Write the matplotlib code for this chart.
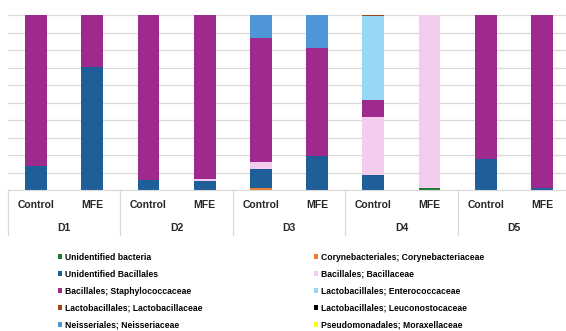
import numpy as np
import matplotlib.pyplot as plt
from matplotlib.patches import Patch
import matplotlib.transforms as mtransforms

plt.rcParams['font.family'] = ['Liberation Sans', 'DejaVu Sans']

days = ['D1', 'D2', 'D3', 'D4', 'D5']
groups = ['Control', 'MFE']

taxa = ['Unidentified bacteria', 'Corynebacteriales; Corynebacteriaceae',
        'Unidentified Bacillales', 'Bacillales; Bacillaceae',
        'Bacillales; Staphylococcaceae', 'Lactobacillales; Enterococcaceae',
        'Lactobacillales; Lactobacillaceae', 'Lactobacillales; Leuconostocaceae',
        'Neisseriales; Neisseriaceae', 'Pseudomonadales; Moraxellaceae']
colors = ['#1e7a30', '#ed7d31', '#1f5f99', '#f2cdee', '#9e2a8e',
          '#97d9f5', '#a0461a', '#000000', '#4f96d8', '#ffff00']

# relative abundance (%) per sample: D1 C, D1 M, D2 C, D2 M, ... D5 M
unid_bacteria = [0, 0, 0, 0, 0, 0, 0, 1.5, 0, 0]
corynebact = [0, 0, 0, 0, 1.3, 0, 0, 0, 0, 0]
unid_bacillales = [14.0, 70.2, 5.9, 5.5, 10.6, 19.6, 8.6, 0, 18.1, 1.5]
bacillaceae = [0, 0, 0, 0.8, 4.4, 0, 33.5, 98.5, 0, 0]
staphylococc = [86.0, 29.8, 94.1, 93.7, 70.8, 61.6, 9.5, 0, 81.9, 98.5]
enterococc = [0, 0, 0, 0, 0, 0, 48.1, 0, 0, 0]
lactobacill = [0, 0, 0, 0, 0, 0, 0.3, 0, 0, 0]
leuconostoc = [0, 0, 0, 0, 0, 0, 0, 0, 0, 0]
neisseriac = [0, 0, 0, 0, 12.9, 18.8, 0, 0, 0, 0]
moraxellac = [0, 0, 0, 0, 0, 0, 0, 0, 0, 0]

series = [unid_bacteria, corynebact, unid_bacillales, bacillaceae, staphylococc,
          enterococc, lactobacill, leuconostoc, neisseriac, moraxellac]

fig = plt.figure(figsize=(5.66, 3.31), dpi=100)
ax = fig.add_axes([0.0141, 0.425, 0.993, 0.5297])

x = np.arange(len(days) * len(groups))
bottom = np.zeros(len(x))
for vals, col in zip(series, colors):
    vals = np.array(vals)
    ax.bar(x, vals, 0.39, bottom=bottom, color=col, zorder=3)
    bottom += vals

ax.set_xlim(-0.5, len(x) - 0.5)
ax.set_ylim(0, 100)
ax.set_yticks(np.arange(0, 101, 10))
ax.yaxis.grid(True, color='#d9d9d9', linewidth=0.9, zorder=0)
ax.set_xticks([])
ax.tick_params(left=False, labelleft=False)
for s in ['top', 'right', 'left']:
    ax.spines[s].set_visible(False)
ax.spines['bottom'].set_color('#d9d9d9')
ax.spines['bottom'].set_zorder(4)

# category labels and group separators below the axis
trans = mtransforms.blended_transform_factory(ax.transData, ax.transAxes)
for i, xi in enumerate(x):
    ax.text(xi, -0.084, groups[i % 2], transform=trans, ha='center', va='center',
            fontsize=7.5, fontweight='bold', color='#262626')
for j, d in enumerate(days):
    ax.text(2 * j + 0.5, -0.215, d, transform=trans, ha='center', va='center',
            fontsize=7.5, fontweight='bold', color='#262626')
for k in range(len(days) + 1):
    ax.plot([2 * k - 0.5] * 2, [0, -0.255], transform=trans, color='#d9d9d9',
            linewidth=0.9, clip_on=False)

# legend laid out in two columns, read row by row
handles = [Patch(facecolor=c, edgecolor='none') for c in colors]
order = [0, 2, 4, 6, 8, 1, 3, 5, 7, 9]
fig.legend([handles[i] for i in order], [taxa[i] for i in order],
           ncol=2, loc='upper left', bbox_to_anchor=(0.102, 0.237),
           frameon=False, prop={'weight': 'bold', 'size': 6.2},
           handlelength=0.5, handleheight=0.5, handletextpad=0.3,
           labelspacing=0.93, columnspacing=13, borderpad=0, borderaxespad=0)

fig.savefig('out.png', dpi=100)
